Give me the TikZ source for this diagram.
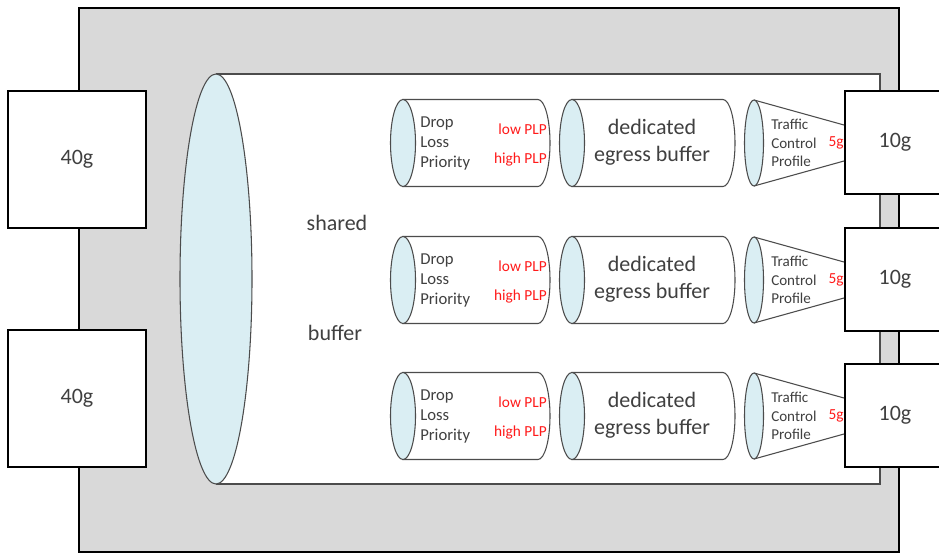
\documentclass[tikz,border=0pt]{standalone}
\usepackage{fontspec}
\setmainfont{Carlito}
\usetikzlibrary{positioning}
\definecolor{chassis}{HTML}{D9D9D9}
\definecolor{lblue}{HTML}{DAEEF3}
\definecolor{txt}{HTML}{404040}
\definecolor{plp}{HTML}{FF1A1A}
\tikzset{port/.style={draw=black,line width=1.5pt,fill=white,text=txt,font=\fontsize{16.5}{19}\selectfont}}
\tikzset{edge/.style={draw=black!70,line width=0.8pt}}
\tikzset{lbl/.style={text=txt,inner sep=0pt}}

\begin{document}
\begin{tikzpicture}[x=0.75pt,y=-0.75pt]
\clip (0,0) rectangle (939,554);
% chassis
\draw[fill=chassis,line width=1.5pt] (79,8) rectangle (899,552);
% shared buffer
\draw[edge,line width=1.2pt,fill=white] (216,74) -- (880,74) -- (880,484) -- (216,484);
\draw[edge,fill=lblue] (216,279) ellipse [x radius=36,y radius=205];
\node[lbl,font=\fontsize{16.5}{19}\selectfont] (shared) at (337,223) {shared};
\node[lbl,font=\fontsize{16.5}{19}\selectfont] (buffer) at (335,333) {buffer};

\foreach \r/\y in {1/143,2/280,3/416}{
  % drop loss priority
  \draw[edge,fill=white] (403,\y-43.5) -- (538,\y-43.5) arc[start angle=-90,end angle=90,x radius=12,y radius=43.5] -- (403,\y+43.5) -- cycle;
  \draw[edge,fill=lblue] (403,\y) ellipse [x radius=12.5,y radius=43.5];
  \node[lbl,anchor=west,align=left,font=\fontsize{12.5}{15}\selectfont] (dlp\r) at (420,\y) {Drop\\Loss\\Priority};
  \node[lbl,anchor=east,text=plp,font=\fontsize{11.5}{14}\selectfont] (low\r) at (547,\y-14) {low PLP};
  \node[lbl,anchor=east,text=plp,font=\fontsize{11.5}{14}\selectfont] (high\r) at (547,\y+16) {high PLP};
  % egress
  \draw[edge,fill=white] (572,\y-43.5) -- (723,\y-43.5) arc[start angle=-90,end angle=90,x radius=12,y radius=43.5] -- (572,\y+43.5) -- cycle;
  \draw[edge,fill=lblue] (572,\y) ellipse [x radius=12.5,y radius=43.5];
  \node[lbl,align=center,font=\fontsize{16.5}{20}\selectfont] (egr\r) at (652,\y-1) {dedicated\\egress buffer};
  % output port and traffic control profile
  \node[port,minimum width=75pt,minimum height=77.25pt] (out\r) at (895,\y-1) {10g};
  \coordinate (tcp\r) at (754,\y);
  \draw[edge] ([yshift=32.25pt]tcp\r) -- ([yshift=12.75pt]out\r.west);
  \draw[edge] ([yshift=-32.25pt]tcp\r) -- ([yshift=-14.25pt]out\r.west);
  \draw[edge,fill=lblue] (tcp\r) ellipse [x radius=9.5,y radius=43];
  \node[lbl,anchor=west,align=left,font=\fontsize{11.3}{14}\selectfont] (tcpl\r) at (771,\y) {Traffic\\Control\\Profile};
  \node[lbl,text=plp,font=\fontsize{11.5}{14}\selectfont] (rate\r) at (836,\y) {5g};
}
% input ports
\node[port,minimum width=103.5pt,minimum height=102.75pt] (in1) at (77,159.5) {40g};
\node[port,minimum width=103.5pt,minimum height=102.75pt] (in2) at (77,398.5) {40g};
\end{tikzpicture}
\end{document}
